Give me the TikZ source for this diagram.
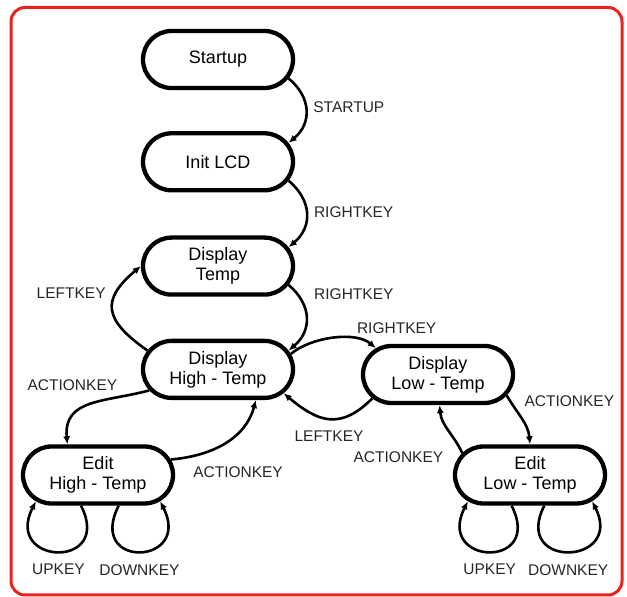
\documentclass[tikz,border=0pt]{standalone}
\usepackage{fontspec}
\setmainfont{Liberation Sans}
\usetikzlibrary{arrows.meta,positioning,shapes.misc}
\definecolor{framered}{RGB}{232,36,32}

\begin{document}
\begin{tikzpicture}[x=1pt, y=1pt, >={Latex[length=8pt,width=7pt]},
stnode/.style={draw, rounded rectangle, line width=4.3pt, minimum width=150pt, minimum height=57pt, inner xsep=0pt, align=center, font=\fontsize{18}{20}\selectfont},
evlabel/.style={font=\fontsize{15.5}{17}\selectfont, text=black!85},
flow/.style={->, line width=2.6pt}]
\useasboundingbox (0,0) rectangle (627,597);
\draw[framered, line width=3pt, rounded corners=14pt] (11,2) rectangle (622,589.5);
\node[stnode] (startup) at (218,537.5) {Startup};
\node[stnode, below=41pt of startup] (initlcd) {Init LCD};
\node[stnode, below=43pt of initlcd] (disptemp) {Display\\Temp};
\node[stnode, below=42pt of disptemp] (disphigh) {Display\\High - Temp};
\node[stnode] (displow) at (438,222.5) {Display\\Low - Temp};
\node[stnode] (edithigh) at (98,122) {Edit\\High - Temp};
\node[stnode] (editlow) at (530,122) {Edit\\Low - Temp};
\draw[flow] (startup.-15) to[out=-40, in=40, looseness=1.2] node[evlabel, pos=.45, right=3pt] (lbStartup) {STARTUP} (initlcd.15);
\draw[flow] (initlcd.-15) to[out=-40, in=40, looseness=1.2] node[evlabel, pos=.47, right=3pt] (lbRight1) {RIGHTKEY} (disptemp.15);
\draw[flow] (disptemp.-15) to[out=-40, in=40, looseness=1.2] node[evlabel, pos=.15, right=12pt] (lbRight2) {RIGHTKEY} (disphigh.15);
\draw[flow] (disphigh.165) to[out=145, in=220, looseness=1.6] node[evlabel, pos=.7, left=6pt] (lbLeft1) {LEFTKEY} (disptemp.180);
\draw[flow] (disphigh.12) to[out=40, in=140, looseness=.8] node[evlabel, pos=.7, above right] (lbRight3) {RIGHTKEY} (displow.157);
\draw[flow] (displow.200) to[out=-135, in=-40, looseness=1.3] node[evlabel, below=8pt] (lbLeft2) {LEFTKEY} (disphigh.-20);
\draw[flow] (disphigh.197) to[out=195, in=95, looseness=1.2] node[evlabel, pos=.2, above left=2pt] (lbAct1) {ACTIONKEY} (edithigh.135);
\draw[flow] (edithigh.12) to[out=5, in=-105] node[evlabel, pos=.15, below right, yshift=-5pt] (lbAct2) {ACTIONKEY} (disphigh.-39);
\draw[flow] (displow.-17) to[out=-60, in=95] node[evlabel, pos=.1, right=10pt] (lbAct3) {ACTIONKEY} (editlow.north);
\draw[flow] (editlow.162) to[out=115, in=-85] node[evlabel, pos=.05, left=13pt, yshift=-7pt] (lbAct4) {ACTIONKEY} (displow.-87);
% key loops under the edit states
\draw[flow] (edithigh.-119) to[out=-63, in=-117, distance=72pt] node[evlabel, below=8pt] (lbUp1) {UPKEY} (edithigh.-157);
\draw[flow] (edithigh.-56) to[out=-117, in=-63, distance=72pt] node[evlabel, below=8pt] (lbDown1) {DOWNKEY} (edithigh.-23);
\draw[flow] (editlow.-121) to[out=-63, in=-117, distance=72pt] node[evlabel, below=8pt] (lbUp2) {UPKEY} (editlow.-157);
\draw[flow] (editlow.-65) to[out=-117, in=-63, distance=72pt] node[evlabel, below=8pt] (lbDown2) {DOWNKEY} (editlow.-23);
\end{tikzpicture}
\end{document}
